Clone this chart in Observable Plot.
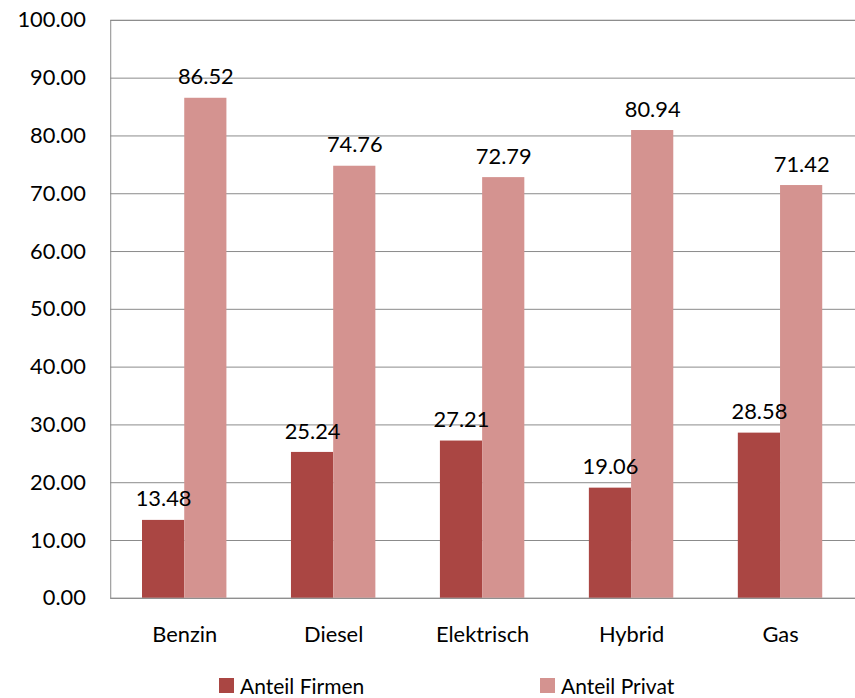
<!DOCTYPE html>
<html><head><meta charset="utf-8">
<script src="https://cdn.jsdelivr.net/npm/d3@7"></script>
<script src="https://cdn.jsdelivr.net/npm/@observablehq/plot@0.6"></script>
<style>
html,body{margin:0;padding:0;background:#fff;overflow:hidden;width:855px;height:698px;}
#chart{position:absolute;left:0;top:0;}
.leg{position:absolute;font-family:Lato,"Open Sans",sans-serif;font-size:21px;color:#000;display:flex;align-items:center;white-space:nowrap;}
.sw{width:15px;height:15px;display:inline-block;margin-right:6px;}
</style></head>
<body>
<div id="chart"></div>
<script>
const categories = ["Benzin","Diesel","Elektrisch","Hybrid","Gas"];
const seriesNames = ["Anteil Firmen","Anteil Privat"];
const firmen = [13.48,25.24,27.21,19.06,28.58];
const privat = [86.52,74.76,72.79,80.94,71.42];
const colors = ["#AA4643","#D49390"];
const yTicks = [0,10,20,30,40,50,60,70,80,90,100];

const W = 861, ML = 111, MR = 0;
const padIn = 0.433, padOut = padIn/2;
const step = (W - ML - MR) / categories.length;
const bw = step * (1 - padIn);

const dataF = categories.map((c,i)=>({cat:c, series:seriesNames[0], value:firmen[i]}));
const dataP = categories.map((c,i)=>({cat:c, series:seriesNames[1], value:privat[i]}));
const font = 'Lato, "Open Sans", sans-serif';

const plot = Plot.plot({
  width: W, height: 665,
  marginLeft: ML, marginRight: MR, marginTop: 20, marginBottom: 63,
  style: {fontFamily: font, fontSize: "22px", color: "#000", background: "#fff", overflow: "visible"},
  x: {domain: categories, paddingInner: padIn, paddingOuter: padOut, label: null, tickSize: 0, tickPadding: 28},
  y: {domain: [0,100], ticks: yTicks, tickFormat: d => d.toFixed(2), label: null, tickSize: 0, tickPadding: 25},
  color: {domain: seriesNames, range: colors},
  marks: [
    Plot.gridY(yTicks, {stroke: "#8a8a8a", strokeOpacity: 1}),
    Plot.barY(dataF, {x: "cat", y: "value", fill: "series", insetRight: bw/2}),
    Plot.barY(dataP, {x: "cat", y: "value", fill: "series", insetLeft: bw/2}),
    Plot.text(dataF, {x: "cat", y: "value", text: d => d.value.toFixed(2), dx: -bw/4, dy: -14, lineAnchor: "bottom", fill: "#000"}),
    Plot.text(dataP, {x: "cat", y: "value", text: d => d.value.toFixed(2), dx: bw/4, dy: -14, lineAnchor: "bottom", fill: "#000"}),
    Plot.frame({stroke: "#8a8a8a"})
  ]
});
document.getElementById("chart").appendChild(plot);

const legX = [219, 540];
seriesNames.forEach((s,i)=>{
  const d = document.createElement("div");
  d.className = "leg";
  d.style.left = legX[i] + "px";
  d.style.top = "673px";
  d.innerHTML = `<span class="sw" style="background:${colors[i]}"></span><span>${s}</span>`;
  document.body.appendChild(d);
});
</script>
</body></html>
